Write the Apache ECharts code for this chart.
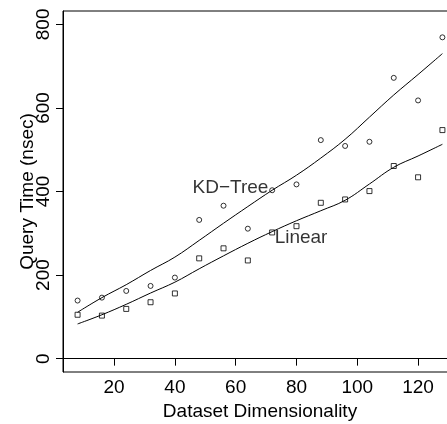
<!DOCTYPE html>
<html>
<head>
<meta charset="utf-8">
<script src="https://cdn.jsdelivr.net/npm/echarts@6/dist/echarts.min.js"></script>
<style>
html,body{margin:0;padding:0;background:#fff;}
#chart{width:447px;height:424px;}
</style>
</head>
<body>
<div id="chart"></div>
<script>
// Data
var dims = [8, 16, 24, 32, 40, 48, 56, 64, 72, 80, 88, 96, 104, 112, 120, 128];
var kdTreeTime = [139, 146, 162, 174, 194, 332, 366, 311, 403, 417, 523, 509, 519, 672, 618, 769];
var linearTime = [105, 103, 119, 135, 156, 240, 264, 235, 302, 317, 373, 381, 401, 461, 434, 547];
var kdTreeFit = [111, 146, 177, 211, 243, 283, 324, 364, 403, 439, 480, 525, 578, 631, 680, 730];
var linearFit = [83, 105, 130, 157, 183, 215, 246, 276, 304, 330, 354, 379, 418, 458, 485, 513];
var xTicks = [20, 40, 60, 80, 100, 120];
var yTicks = [0, 200, 400, 600, 800];
var labelText = ['KD\u2212Tree', 'Linear'];
var labelX = [58.3, 81.5];
var labelY = [408, 290];
var xTitle = 'Dataset Dimensionality';
var yTitle = 'Query Time (nsec)';

function pairs(xs, ys) { return xs.map(function (x, i) { return [x, ys[i]]; }); }

var FONT = "'Liberation Sans', Arial, Helvetica, sans-serif";
var chart = echarts.init(document.getElementById('chart'), null, { renderer: 'canvas' });
chart.setOption({
  animation: false,
  backgroundColor: '#fff',
  grid: {
    left: 63, top: 11, width: 394, height: 361, outerBoundsMode: 'none', containLabel: false,
    show: true, borderColor: '#000', borderWidth: 1, backgroundColor: 'transparent'
  },
  graphic: [{
    type: 'text', x: 28, y: 191.5, rotation: Math.PI / 2,
    style: { text: yTitle, fontFamily: FONT, fontSize: 19, fill: '#000', align: 'center', verticalAlign: 'middle' }
  }],
  xAxis: {
    type: 'value', min: 3.2, max: 132.8,
    name: xTitle, nameLocation: 'middle', nameGap: 28,
    nameTextStyle: { fontFamily: FONT, fontSize: 19, color: '#000' },
    axisLine: { show: true, lineStyle: { color: '#000', width: 1 } },
    axisTick: { show: true, inside: false, length: 7, lineStyle: { color: '#000' }, customValues: xTicks },
    axisLabel: { fontFamily: FONT, fontSize: 19, color: '#000', margin: 6, customValues: xTicks },
    splitLine: { show: false }
  },
  yAxis: {
    type: 'value', min: -32, max: 832,
    axisLine: { show: true, lineStyle: { color: '#000', width: 1 } },
    axisTick: { show: true, inside: false, length: 7, lineStyle: { color: '#000' }, customValues: yTicks },
    axisLabel: { fontFamily: FONT, fontSize: 19, color: '#000', margin: 10, rotate: 90, customValues: yTicks },
    splitLine: { show: false }
  },
  series: [
    {
      type: 'line', data: pairs(dims, kdTreeFit), showSymbol: false, symbol: 'none',
      smooth: 0.4,
      lineStyle: { color: '#000', width: 1 }
    },
    {
      type: 'line', data: pairs(dims, linearFit), showSymbol: false, symbol: 'none',
      smooth: 0.4,
      lineStyle: { color: '#000', width: 1 }
    },
    {
      type: 'scatter', data: pairs(dims, kdTreeTime), symbol: 'circle', symbolSize: 5,
      itemStyle: { color: 'rgba(0,0,0,0)', borderColor: '#000', borderWidth: 1 }
    },
    {
      type: 'scatter', data: pairs(dims, linearTime), symbol: 'rect', symbolSize: 5,
      itemStyle: { color: 'rgba(0,0,0,0)', borderColor: '#000', borderWidth: 1 }
    },
    {
      type: 'scatter', symbolSize: 0, silent: true,
      data: labelText.map(function (t, i) { return { value: [labelX[i], labelY[i]], name: t }; }),
      label: {
        show: true, position: 'inside', formatter: '{b}',
        fontFamily: FONT, fontSize: 19, color: '#000', align: 'center', verticalAlign: 'middle'
      }
    }
  ]
});
</script>
</body>
</html>
